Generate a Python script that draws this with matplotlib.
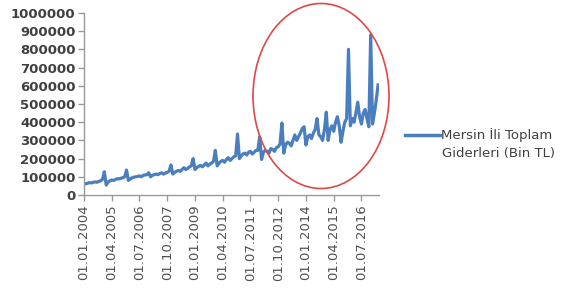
import matplotlib
matplotlib.use("Agg")
import matplotlib.pyplot as plt
from matplotlib.patches import Ellipse
from matplotlib.lines import Line2D

# Monthly expenditure (thousand TL), Jan 2004 - Apr 2017 (values in thousands)
values_k = [
    60, 62, 65, 68, 66, 70, 72, 70, 75, 78, 85, 128,          # 2004
    55, 70, 78, 82, 80, 85, 90, 88, 92, 95, 100, 137,         # 2005
    80, 88, 95, 98, 100, 102, 105, 100, 108, 110, 112, 122,   # 2006
    100, 108, 112, 115, 112, 118, 122, 115, 120, 125, 130, 165,  # 2007
    115, 125, 130, 135, 130, 140, 150, 140, 145, 155, 160, 200,  # 2008
    140, 150, 158, 162, 155, 165, 175, 160, 170, 175, 185, 245,  # 2009
    160, 175, 185, 190, 180, 195, 205, 190, 200, 210, 215, 335,  # 2010
    200, 215, 225, 230, 220, 235, 240, 225, 235, 245, 245, 320,  # 2011
    195, 235, 245, 240, 230, 255, 250, 240, 260, 265, 280, 395,  # 2012
    230, 275, 290, 285, 270, 300, 330, 300, 320, 340, 365, 375,  # 2013
    275, 320, 330, 310, 340, 360, 420, 330, 320, 300, 360, 455,  # 2014
    300, 360, 380, 350, 400, 430, 380, 290, 350, 400, 420, 800,  # 2015
    380, 420, 400, 450, 510, 430, 390, 450, 470, 420, 375, 880,  # 2016
    390, 450, 520, 605,                                          # 2017
]
values = [v * 1000 for v in values_k]

tick_labels = ["01.01.2004", "01.04.2005", "01.07.2006", "01.10.2007",
               "01.01.2009", "01.04.2010", "01.07.2011", "01.10.2012",
               "01.01.2014", "01.04.2015", "01.07.2016"]
tick_positions = [0, 15, 30, 45, 60, 75, 90, 105, 120, 135, 150]
y_ticks = [0, 100000, 200000, 300000, 400000, 500000, 600000, 700000,
           800000, 900000, 1000000]

W, H = 564, 302
fig = plt.figure(figsize=(W / 100, H / 100), dpi=100)
ax = fig.add_axes([84 / W, 1 - 195 / H, (379 - 84) / W, (195 - 13) / H])

line_color = "#4a7ebf"
ax.plot(range(len(values)), values, color=line_color, lw=2.3, solid_joinstyle="round")

ax.set_xlim(0, 159.5)
ax.set_ylim(0, 1000000)
ax.set_yticks(y_ticks)
ax.set_yticklabels([str(v) for v in y_ticks], fontsize=9.5, color="#404040",
                   fontweight="bold")
ax.set_xticks(tick_positions)
ax.set_xticklabels(tick_labels, rotation=90, fontsize=9.5, color="#505050")

for s in ["top", "right"]:
    ax.spines[s].set_visible(False)
for s in ["left", "bottom"]:
    ax.spines[s].set_color("#999999")
    ax.spines[s].set_linewidth(1.0)
ax.tick_params(axis="both", colors="#999999", length=4, width=1.0, pad=2)
ax.tick_params(axis="y", labelcolor="#404040")
ax.tick_params(axis="x", labelcolor="#505050", pad=3)

# legend drawn manually
fig.add_artist(Line2D([405 / W, 440 / W], [1 - 135 / H, 1 - 135 / H],
                      color=line_color, lw=2.5, transform=fig.transFigure))
fig.text(441 / W, 1 - 135 / H, "Mersin İli Toplam", fontsize=9.5,
         color="#404040", va="center", ha="left")
fig.text(442 / W, 1 - 153 / H, "Giderleri (Bin TL)", fontsize=9.5,
         color="#404040", va="center", ha="left")

# red ellipse annotation
ell = Ellipse((321 / W, 1 - 96 / H), 136 / W, 185 / H, transform=fig.transFigure,
              fill=False, edgecolor="#e04848", lw=1.2)
fig.add_artist(ell)

fig.savefig("out.png", dpi=100)
